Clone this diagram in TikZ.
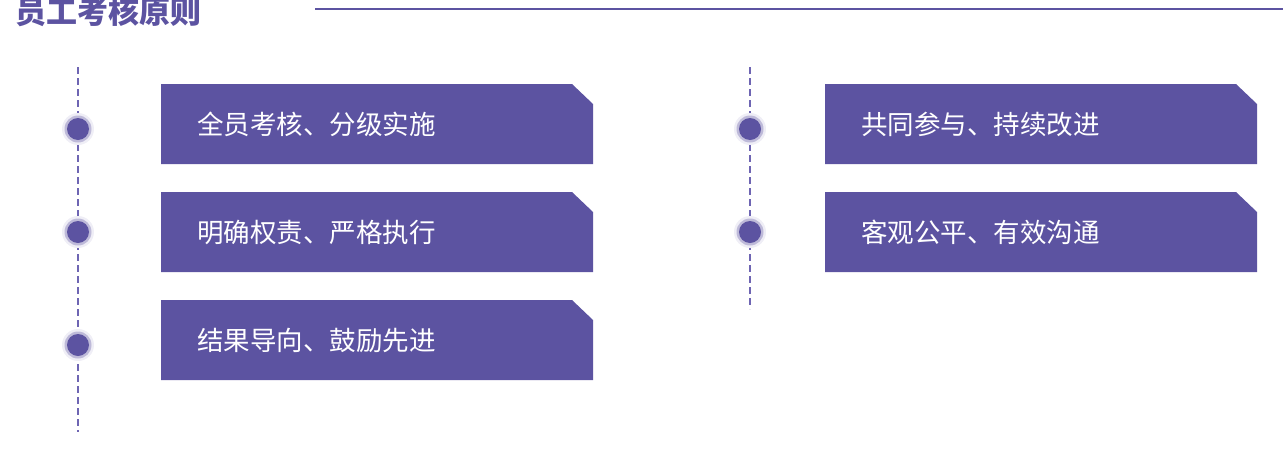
\documentclass[tikz,border=0pt]{standalone}
\usepackage{fontspec}
\newfontfamily\cjk{Noto Sans CJK SC}
\usetikzlibrary{calc}
\definecolor{pc}{HTML}{5C53A1}
\definecolor{lc}{HTML}{6E65B3}
\tikzset{
  boxfill/.style={fill=pc},
  lbl/.style={text=white, font=\cjk\fontsize{26.5}{30}\selectfont, inner sep=0pt, anchor=west},
  guide/.style={draw=lc, line width=1.5pt, dash pattern=on 7pt off 4pt},
  dothalo/.style={circle, fill=pc!10, minimum size=32pt, inner sep=0pt},
  dotring/.style={circle, fill=pc!40, minimum size=27pt, inner sep=0pt},
  dotcore/.style={circle, fill=pc, minimum size=22pt, inner sep=0pt},
}
\newcommand\pbox[4]{%
  \fill[boxfill] (#1,#2) -- ++(411,0) -- ++(21,20) -- ++(0,60) -- ++(-432,0) -- cycle;
  \node[lbl] (#3) at (#1+36,#2+40) {#4};}
\newcommand\pdot[3]{%
  \node[dothalo] (#3h) at (#1,#2) {};
  \node[dotring] (#3r) at (#1,#2) {};
  \node[dotcore] (#3) at (#1,#2) {};}
\begin{document}
\begin{tikzpicture}[x=1pt,y=-1pt]
\useasboundingbox (0,0) rectangle (1283,453);
% title
\node[text=pc, font=\cjk\bfseries\fontsize{31}{34}\selectfont, inner sep=0pt] (title) at (109,12) {员工考核原则};
\coordinate (tl1) at (315,9);
\coordinate (tl2) at (1283,9);
\draw[pc, line width=1.2pt] (tl1) -- (tl2);
% guides
\coordinate (g1a) at (78,67); \coordinate (g1b) at (78,432);
\coordinate (g2a) at (750,67); \coordinate (g2b) at (750,309);
\draw[guide] (g1a) -- (g1b);
\draw[guide] (g2a) -- (g2b);
% dots
\pdot{78}{129}{d1}
\pdot{78}{232}{d2}
\pdot{78}{345}{d3}
\pdot{750}{129}{d4}
\pdot{750}{232}{d5}
% boxes
\pbox{161}{84}{t1}{全员考核、分级实施}
\pbox{161}{192}{t2}{明确权责、严格执行}
\pbox{161}{300}{t3}{结果导向、鼓励先进}
\pbox{825}{84}{t4}{共同参与、持续改进}
\pbox{825}{192}{t5}{客观公平、有效沟通}
\end{tikzpicture}
\end{document}
